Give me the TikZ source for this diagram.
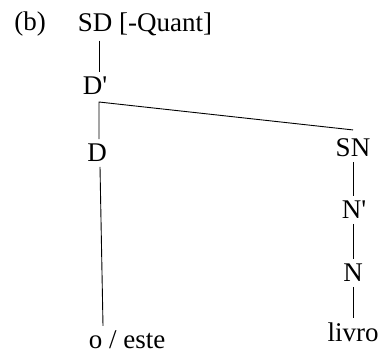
\documentclass[tikz,border=0pt]{standalone}
\usepackage{fontspec}
\setmainfont{Liberation Serif}
\begin{document}
\begin{tikzpicture}[x=1pt,y=-1pt,line width=0.9pt,
  lab/.style={inner sep=0pt,outer sep=5pt,font=\fontsize{27}{30}\selectfont}]
\useasboundingbox (0,0) rectangle (382,354);
\node[lab] (b) at (30,24) {(b)};
\node[lab] (sd) at (145,24) {SD [-Quant]};
\node[lab] (dbar) at (95,86) {D\textquotesingle};
\coordinate (fork) at (99,102);
\node[lab] (d) at (97,153) {D};
\node[lab] (oeste) at (127,340) {o / este};
\node[lab] (sn) at (353,148) {SN};
\node[lab] (nbar) at (354,210) {N\textquotesingle};
\node[lab] (n) at (353,273) {N};
\node[lab] (livro) at (353,332) {livro};
% tree branches
\draw (sd.south -| fork) -- (dbar.north -| fork);
\draw (d.north -| fork) -- (fork) -- ([yshift=4pt]sn.north);
\draw (d.south -| 100,0) -- (oeste.north -| 103,0);
\draw (sn) -- (sn |- nbar.north);
\draw (nbar.south -| n) -- (n);
\draw (n) -- (livro);
\end{tikzpicture}
\end{document}
